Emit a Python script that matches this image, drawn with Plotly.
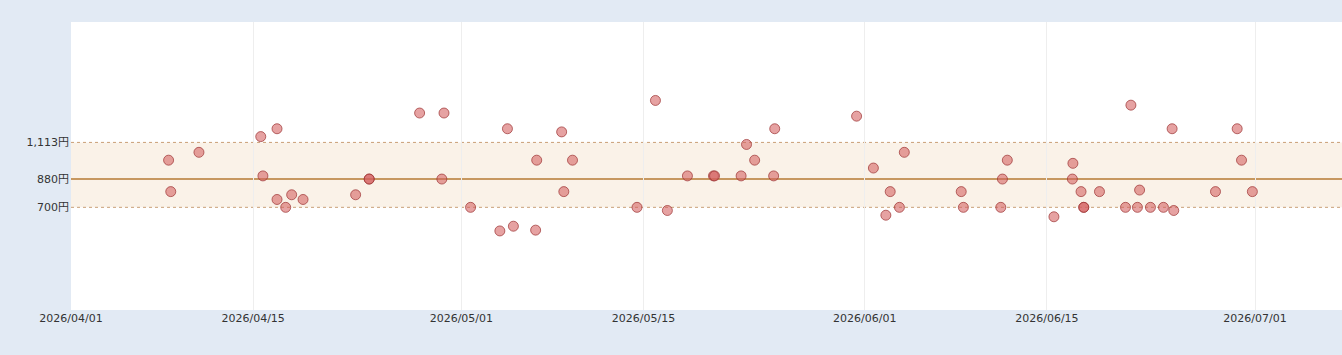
import plotly.graph_objects as go

dates = [
    "2026-04-08 12:00", "2026-04-08 16:00", "2026-04-10 20:00", "2026-04-15 14:00",
    "2026-04-15 18:00", "2026-04-16 20:00", "2026-04-16 20:00", "2026-04-17 12:00",
    "2026-04-17 23:00", "2026-04-18 20:00", "2026-04-22 21:00", "2026-04-23 22:00",
    "2026-04-23 22:00", "2026-04-27 19:00", "2026-04-29 12:00", "2026-04-29 16:00",
    "2026-05-01 17:00", "2026-05-03 23:00", "2026-05-04 13:00", "2026-05-05 00:00",
    "2026-05-06 17:00", "2026-05-06 19:00", "2026-05-08 17:00", "2026-05-08 21:00",
    "2026-05-09 13:00", "2026-05-14 12:00", "2026-05-15 22:00", "2026-05-16 20:00",
    "2026-05-18 09:00", "2026-05-20 09:00", "2026-05-20 11:00", "2026-05-22 12:00",
    "2026-05-22 22:00", "2026-05-23 13:00", "2026-05-25 00:00", "2026-05-25 02:00",
    "2026-05-31 09:00", "2026-06-01 16:00", "2026-06-02 15:00", "2026-06-02 23:00",
    "2026-06-03 16:00", "2026-06-04 01:00", "2026-06-08 10:00", "2026-06-08 14:00",
    "2026-06-11 11:00", "2026-06-11 14:00", "2026-06-11 23:00", "2026-06-15 13:00",
    "2026-06-16 23:00", "2026-06-17 00:00", "2026-06-17 15:00", "2026-06-17 20:00",
    "2026-06-17 20:00", "2026-06-19 01:00", "2026-06-21 01:00", "2026-06-21 11:00",
    "2026-06-21 23:00", "2026-06-22 03:00", "2026-06-22 23:00", "2026-06-23 23:00",
    "2026-06-24 15:00", "2026-06-24 18:00", "2026-06-27 23:00", "2026-06-29 15:00",
    "2026-06-29 23:00", "2026-06-30 19:00",
]
prices = [
    1000, 800, 1050, 1150,
    900, 1200, 750, 700,
    780, 750, 780, 880,
    880, 1300, 880, 1300,
    700, 550, 1200, 580,
    555, 1000, 1180, 800,
    1000, 700, 1380, 680,
    900, 900, 900, 900,
    1100, 1000, 900, 1200,
    1280, 950, 650, 800,
    700, 1050, 800, 700,
    700, 880, 1000, 640,
    880, 980, 800, 700,
    700, 800, 700, 1350,
    700, 810, 700, 700,
    1200, 680, 800, 1200,
    1000, 800,
]

band_low = 700
band_high = 1113
median_price = 880
y_tickvals = [700, 880, 1113]
y_ticktext = ["700円", "880円", "1,113円"]
x_tickvals = ["2026-04-01", "2026-04-15", "2026-05-01", "2026-05-15",
              "2026-06-01", "2026-06-15", "2026-07-01"]
x_ticktext = ["2026/04/01", "2026/04/15", "2026/05/01", "2026/05/15",
              "2026/06/01", "2026/06/15", "2026/07/01"]
x_range = ["2026-04-01", "2026-07-07 16:20"]
y_range = [47, 1879]

fig = go.Figure()
fig.add_trace(go.Scatter(
    x=dates, y=prices, mode="markers",
    marker=dict(size=10, color="rgba(212,95,95,0.58)",
                line=dict(color="rgba(155,50,50,0.7)", width=1)),
    showlegend=False, hoverinfo="x+y",
))

fig.add_shape(type="rect", xref="paper", yref="y", x0=0, x1=1,
              y0=band_low, y1=band_high,
              fillcolor="rgba(232,196,150,0.22)", line=dict(width=0), layer="below")
for v in (band_low, band_high):
    fig.add_shape(type="line", xref="paper", yref="y", x0=0, x1=1, y0=v, y1=v,
                  line=dict(color="rgba(195,150,105,0.9)", width=1, dash="3px,3px"),
                  layer="below")
fig.add_shape(type="line", xref="paper", yref="y", x0=0, x1=1,
              y0=median_price, y1=median_price,
              line=dict(color="rgba(196,146,88,0.95)", width=2), layer="below")

fig.update_layout(
    width=1342, height=355,
    margin=dict(l=71, r=0, t=22, b=45),
    paper_bgcolor="rgb(226,234,244)",
    plot_bgcolor="white",
    font=dict(family="DejaVu Sans, Noto Sans CJK JP", size=11, color="#333"),
    xaxis=dict(range=x_range, tickvals=x_tickvals, ticktext=x_ticktext,
               showgrid=True, gridcolor="#eeeeee", gridwidth=1, zeroline=False,
               showline=False, ticks=""),
    yaxis=dict(range=y_range, tickvals=y_tickvals, ticktext=y_ticktext,
               showgrid=False, zeroline=False, showline=False, ticks="",
               ticklabelstandoff=1),
)

fig.write_html("out.html")
